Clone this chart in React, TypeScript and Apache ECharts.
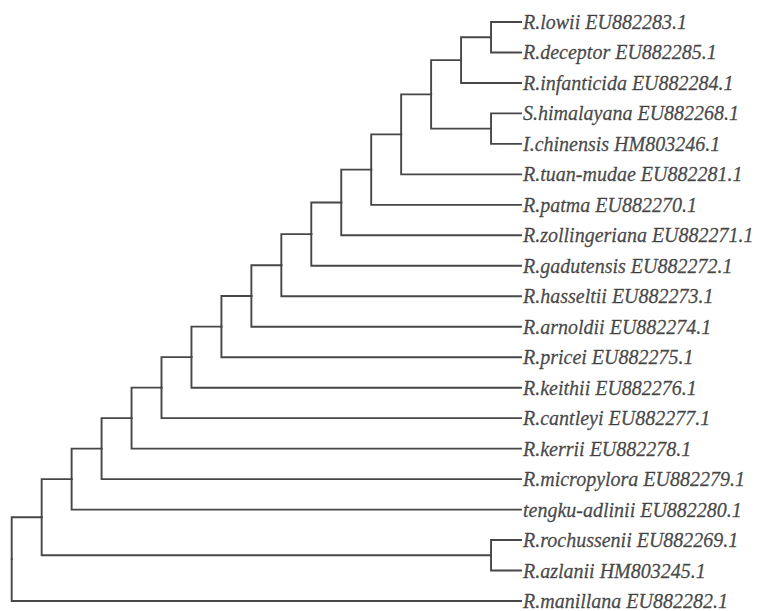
import React, { useEffect, useRef } from "react";
import * as echarts from "echarts";

// Leaf labels, top to bottom
const leaves: string[] = [
  "R.lowii EU882283.1",
  "R.deceptor EU882285.1",
  "R.infanticida EU882284.1",
  "S.himalayana EU882268.1",
  "I.chinensis HM803246.1",
  "R.tuan-mudae EU882281.1",
  "R.patma EU882270.1",
  "R.zollingeriana EU882271.1",
  "R.gadutensis EU882272.1",
  "R.hasseltii EU882273.1",
  "R.arnoldii EU882274.1",
  "R.pricei EU882275.1",
  "R.keithii EU882276.1",
  "R.cantleyi EU882277.1",
  "R.kerrii EU882278.1",
  "R.micropylora EU882279.1",
  "tengku-adlinii EU882280.1",
  "R.rochussenii EU882269.1",
  "R.azlanii HM803245.1",
  "R.manillana EU882282.1",
];

// Tree topology (nested clades of leaf indices, top child first)
const topClade: any = [[[0, 1], 2], [3, 4]];
const tree: any = [[[[[[[[[[[[[[topClade, 5], 6], 7], 8], 9], 10], 11], 12], 13], 14], 15], 16], [17, 18]], 19];

type Laid = { x: number; y: number; h: number; children: Laid[]; leaf?: number };

function height(n: any): number {
  if (typeof n === "number") return 0;
  return 1 + Math.max(...n.map(height));
}

function layout(n: any, maxH: number): Laid {
  if (typeof n === "number") return { x: maxH, y: n, h: 0, children: [], leaf: n };
  const kids = n.map((c: any) => layout(c, maxH));
  const h = height(n);
  return {
    x: maxH - h,
    y: (kids[0].y + kids[kids.length - 1].y) / 2,
    h,
    children: kids,
  };
}

export default function App() {
  const ref = useRef<HTMLDivElement>(null);
  useEffect(() => {
    if (!ref.current) return;
    const chart = echarts.init(ref.current, null, { renderer: "svg" });
    const maxH = height(tree);
    const root = layout(tree, maxH);
    const segs: any[] = [];
    const walk = (n: Laid) => {
      n.children.forEach((c) => {
        segs.push({ coords: [[n.x, n.y], [n.x, c.y], [c.x, c.y]] });
        walk(c);
      });
    };
    walk(root);
    const labelData = leaves.map((name, i) => ({ name, value: [maxH, i] }));
    chart.setOption({
      animation: false,
      grid: { left: 11.7, right: 236, top: 22, bottom: 10 },
      xAxis: { type: "value", min: 0, max: maxH, show: false },
      yAxis: { type: "value", min: 0, max: leaves.length - 1, inverse: true, show: false },
      series: [
        {
          type: "lines",
          coordinateSystem: "cartesian2d",
          polyline: true,
          silent: true,
          lineStyle: { color: "#474747", width: 1.9, opacity: 1, join: "miter", cap: "square" },
          data: segs,
        },
        {
          type: "scatter",
          symbolSize: 0,
          silent: true,
          data: labelData,
          label: {
            show: true,
            position: "right",
            distance: 2,
            formatter: "{b}",
            fontFamily: "Liberation Serif",
            fontStyle: "italic",
            fontSize: 20,
            lineHeight: 14,
            color: "#1e1e1e",
            textBorderColor: "#1e1e1e",
            textBorderWidth: 0.3,
          },
        },
      ],
    });
    return () => chart.dispose();
  }, []);
  return (
    <div
      ref={ref}
      style={{ position: "absolute", left: 0, top: 0, width: 757, height: 611, background: "#fff" }}
    />
  );
}
